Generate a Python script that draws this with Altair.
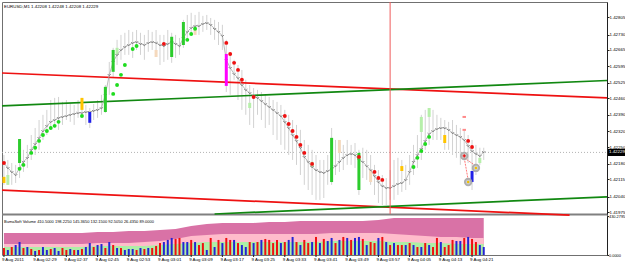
import altair as alt
import pandas as pd

FONT = "Liberation Sans"

# ---------------- data ----------------
title_text = "EURUSD,M1  1.42208 1.42248 1.42208 1.42229"
vol_label = "BumaSoft Volume 410.5000 198.2250 145.3650 132.1500 92.5050 26.4350 89.0000"
current_price = 1.42229
price_ticks = [1.42805, 1.42730, 1.42665, 1.42595, 1.42525, 1.42460, 1.42390,
               1.42320, 1.42250, 1.42180, 1.42115, 1.42040, 1.41975]
vol_ticks = [0.0, 430.2795]
x_tick_bars = [0, 8, 16, 24, 32, 40, 48, 56, 64, 72, 80, 88, 96, 104, 112, 120]
x_tick_labels = ["9 Aug 2011", "9 Aug 02:29", "9 Aug 02:37", "9 Aug 02:45", "9 Aug 02:53",
                 "9 Aug 03:01", "9 Aug 03:09", "9 Aug 03:17", "9 Aug 03:25", "9 Aug 03:33",
                 "9 Aug 03:41", "9 Aug 03:49", "9 Aug 03:57", "9 Aug 04:05", "9 Aug 04:13",
                 "9 Aug 04:21"]

bar_idx = list(range(124))
close = [
    1.42184, 1.42163, 1.42146, 1.42133, 1.42163, 1.42189, 1.42206, 1.42240, 1.42265, 1.42291,
    1.42320, 1.42342, 1.42359, 1.42367, 1.42376, 1.42380, 1.42384, 1.42389, 1.42393, 1.42397,
    1.42397, 1.42401, 1.42401, 1.42406, 1.42410, 1.42418, 1.42474, 1.42559, 1.42614, 1.42644,
    1.42665, 1.42678, 1.42686, 1.42695, 1.42699, 1.42691, 1.42686, 1.42695, 1.42699, 1.42695,
    1.42686, 1.42682, 1.42691, 1.42699, 1.42691, 1.42682, 1.42716, 1.42742, 1.42759, 1.42767,
    1.42767, 1.42776, 1.42780, 1.42772, 1.42755, 1.42742, 1.42725, 1.42623, 1.42589, 1.42563,
    1.42546, 1.42516, 1.42495, 1.42482, 1.42469, 1.42461, 1.42448, 1.42435, 1.42423, 1.42410,
    1.42397, 1.42384, 1.42359, 1.42333, 1.42303, 1.42278, 1.42249, 1.42210, 1.42189, 1.42167,
    1.42154, 1.42146, 1.42142, 1.42150, 1.42159, 1.42171, 1.42189, 1.42206, 1.42218, 1.42223,
    1.42218, 1.42197, 1.42189, 1.42171, 1.42154, 1.42129, 1.42103, 1.42086, 1.42078, 1.42078,
    1.42086, 1.42095, 1.42099, 1.42112, 1.42146, 1.42189, 1.42218, 1.42244, 1.42278, 1.42308,
    1.42320, 1.42329, 1.42333, 1.42333, 1.42325, 1.42312, 1.42303, 1.42295, 1.42282, 1.42257,
    1.42235, 1.42223, 1.42214, 1.42231]
high = [
    1.42218, 1.42197, 1.42184, 1.42176, 1.42286, 1.42240, 1.42261, 1.42303, 1.42333, 1.42367,
    1.42389, 1.42410, 1.42452, 1.42461, 1.42465, 1.42444, 1.42452, 1.42435, 1.42431, 1.42452,
    1.42461, 1.42431, 1.42418, 1.42435, 1.42452, 1.42474, 1.42516, 1.42614, 1.42674, 1.42708,
    1.42729, 1.42738, 1.42750, 1.42742, 1.42750, 1.42738, 1.42729, 1.42750, 1.42742, 1.42750,
    1.42729, 1.42729, 1.42750, 1.42738, 1.42729, 1.42716, 1.42793, 1.42814, 1.42823, 1.42814,
    1.42827, 1.42810, 1.42814, 1.42801, 1.42793, 1.42784, 1.42772, 1.42708, 1.42644, 1.42623,
    1.42601, 1.42580, 1.42538, 1.42516, 1.42503, 1.42495, 1.42486, 1.42474, 1.42465, 1.42452,
    1.42444, 1.42431, 1.42410, 1.42389, 1.42367, 1.42346, 1.42325, 1.42282, 1.42261, 1.42240,
    1.42218, 1.42197, 1.42197, 1.42218, 1.42333, 1.42282, 1.42269, 1.42261, 1.42282, 1.42261,
    1.42269, 1.42240, 1.42249, 1.42240, 1.42218, 1.42176, 1.42154, 1.42133, 1.42120, 1.42154,
    1.42197, 1.42206, 1.42197, 1.42176, 1.42218, 1.42261, 1.42303, 1.42389, 1.42410, 1.42418,
    1.42410, 1.42389, 1.42376, 1.42367, 1.42359, 1.42367, 1.42346, 1.42333, 1.42325, 1.42303,
    1.42282, 1.42261, 1.42249, 1.42249]
low = [
    1.42091, 1.42091, 1.42091, 1.42099, 1.42120, 1.42146, 1.42163, 1.42197, 1.42218, 1.42240,
    1.42282, 1.42303, 1.42325, 1.42333, 1.42325, 1.42346, 1.42367, 1.42359, 1.42346, 1.42376,
    1.42376, 1.42346, 1.42333, 1.42367, 1.42376, 1.42389, 1.42397, 1.42474, 1.42546, 1.42601,
    1.42623, 1.42644, 1.42644, 1.42631, 1.42665, 1.42644, 1.42623, 1.42657, 1.42665, 1.42657,
    1.42601, 1.42614, 1.42623, 1.42610, 1.42631, 1.42644, 1.42674, 1.42708, 1.42729, 1.42738,
    1.42729, 1.42742, 1.42750, 1.42729, 1.42708, 1.42686, 1.42665, 1.42486, 1.42474, 1.42538,
    1.42452, 1.42410, 1.42389, 1.42346, 1.42333, 1.42389, 1.42367, 1.42333, 1.42346, 1.42303,
    1.42282, 1.42261, 1.42240, 1.42218, 1.42197, 1.42176, 1.42133, 1.42091, 1.42069, 1.42048,
    1.42027, 1.42027, 1.42035, 1.42091, 1.42091, 1.42133, 1.42146, 1.42154, 1.42176, 1.42176,
    1.42163, 1.42048, 1.42120, 1.42112, 1.42091, 1.42048, 1.42014, 1.42005, 1.42005, 1.42027,
    1.42027, 1.42048, 1.42061, 1.42069, 1.42091, 1.42133, 1.42163, 1.42197, 1.42240, 1.42261,
    1.42282, 1.42282, 1.42282, 1.42240, 1.42240, 1.42218, 1.42206, 1.42176, 1.42197, 1.42184,
    1.42069, 1.42133, 1.42176, 1.42197]

# strongly coloured candle bodies
body_bar = [0, 4, 20, 22, 26, 28, 43, 46, 57, 84, 91, 102, 113, 120]
body_top = [1.42125, 1.42286, 1.42461, 1.42401, 1.42508, 1.42665, 1.42721, 1.42784, 1.42648,
            1.42291, 1.42227, 1.42171, 1.42303, 1.42150]
body_bot = [1.42099, 1.42184, 1.42410, 1.42355, 1.42401, 1.42572, 1.42635, 1.42686, 1.42512,
            1.42103, 1.42069, 1.42150, 1.42269, 1.42103]
body_kind = ["yellow", "green", "yellow", "blue", "green", "green", "green", "green", "magenta",
             "green", "green", "yellow", "yellow", "blue"]

# faint candle bodies
pastel_bar = [1, 29, 39, 49, 63, 79, 86, 94, 107, 109, 122]
pastel_top = [1.42133, 1.42674, 1.42665, 1.42759, 1.42440, 1.42189, 1.42282, 1.42154, 1.42380,
              1.42418, 1.42206]
pastel_bot = [1.42091, 1.42644, 1.42635, 1.42729, 1.42418, 1.42167, 1.42227, 1.42103, 1.42316,
              1.42380, 1.42184]
pastel_kind = ["lg", "lg", "or", "or", "lg", "lg", "or", "or", "lg", "lg", "lg"]

# dotted trailing stop (SAR-like) dots
sar_bar = [0, 4, 5, 7, 8, 9, 10, 11, 12, 13, 14, 20, 28, 29, 30, 31, 33, 34, 41, 47, 48, 49,
           57, 58, 59, 60, 61, 64, 72, 73, 74, 75, 76, 77, 79, 91, 95, 96, 97,
           105, 106, 107, 108, 109, 119, 120]
sar_price = [1.42184, 1.42159, 1.42176, 1.42227, 1.42249, 1.42278, 1.42303, 1.42320, 1.42333,
             1.42342, 1.42359, 1.42384, 1.42478, 1.42516, 1.42559, 1.42601, 1.42669, 1.42682,
             1.42691, 1.42708, 1.42733, 1.42755,
             1.42695, 1.42648, 1.42610, 1.42580, 1.42538, 1.42465, 1.42384, 1.42350, 1.42320,
             1.42295, 1.42261, 1.42227, 1.42180, 1.42210, 1.42146, 1.42120, 1.42112,
             1.42167, 1.42206, 1.42235, 1.42265, 1.42295, 1.42278, 1.42252]
sar_dir = ["dn"] + ["up"] * 17 + ["dn"] + ["up"] * 3 + ["dn"] * 17 + ["up"] * 5 + ["dn"] * 2

# grey circle markers near the end
circle_bar = [118, 121, 119]
circle_price = [1.42214, 1.42163, 1.42103]
circle_kind = ["sell", "buy", "buy"]
tick_bar = [118, 118]
tick_price = [1.42380, 1.42325]
dash_seg = ["a", "a", "b", "b"]
dash_bar = [118, 119, 118, 121]
dash_price = [1.42206, 1.42112, 1.42206, 1.42171]

# trend lines (endpoints, in bar units)
trend_id = ["r1", "r1", "g1", "g1", "r2", "r2", "g2", "g2"]
trend_col = ["red", "red", "green", "green", "red", "red", "green", "green"]
trend_bar = [-0.5, 154.6, -0.5, 154.6, -0.5, 145.0, 54.0, 154.6]
trend_price = [1.42567, 1.42461, 1.42427, 1.42535, 1.42069, 1.41962, 1.41967, 1.42040]
vline_bar = [99]

# volume pane
volume = [77, 55, 88, 110, 143, 77, 88, 66, 44, 55, 88, 55, 66, 77, 44, 77, 55, 66, 55, 55,
          66, 88, 132, 88, 110, 121, 77, 143, 110, 77, 77, 55, 66, 66, 55, 77, 66, 77, 77, 99,
          132, 143, 166, 188, 177, 188, 143, 143, 166, 143, 110, 132, 55, 188, 88, 166, 132,
          188, 166, 166, 132, 110, 88, 143, 132, 143, 166, 177, 166, 132, 166, 132, 143, 166,
          199, 143, 110, 166, 132, 143, 199, 132, 177, 154, 188, 132, 166, 199, 188, 166, 188,
          199, 177, 110, 143, 132, 188, 199, 143, 110, 132, 110, 110, 110, 132, 110, 88, 88,
          132, 110, 88, 188, 143, 88, 110, 166, 154, 154, 188, 199, 177, 143, 110, 88]
vol_dir = list("rbrbbrbrbrbbrbbrrbrbrbbrbbrbrbrbbbrbrbrrrbbbrrbbrbrrbrbrbrrbrbbrbrbrrrrbrbbrbrrbrbrbbrbrbrbbrbrrbrbrbrrbrbrbrbrrbrrrbbrbrrbb")[:124]
area_bar = [0, 4, 8, 12, 16, 20, 24, 28, 32, 36, 40, 44, 48, 52, 56, 60, 64, 68, 72, 76, 80,
            84, 88, 92, 96, 100, 104, 108, 112, 116, 120, 123]
area_hatch = [243, 243, 243, 243, 243, 243, 254, 254, 265, 265, 276, 287, 320, 342, 353, 353,
              353, 364, 364, 375, 375, 375, 375, 375, 386, 408, 408, 408, 408, 408, 408, 408]
area_pink = [121, 121, 121, 121, 121, 121, 132, 132, 132, 143, 154, 176, 210, 221, 232, 232,
             232, 232, 232, 232, 232, 243, 243, 243, 243, 232, 221, 210, 199, 199, 188, 188]
area_green = [88, 88, 88, 88, 88, 88, 99, 99, 99, 99, 110, 121, 132, 143, 143, 143, 143, 143,
              143, 143, 143, 154, 154, 154, 154, 143, 143, 132, 132, 121, 121, 121]

# ---------------- tables ----------------
ohlc = pd.DataFrame({"bar": bar_idx, "close": close, "high": high, "low": low})
bodies = pd.DataFrame({"bar": body_bar, "top": body_top, "bot": body_bot, "kind": body_kind})
pastels = pd.DataFrame({"bar": pastel_bar, "top": pastel_top, "bot": pastel_bot, "kind": pastel_kind})
sar = pd.DataFrame({"bar": sar_bar, "price": sar_price, "dir": sar_dir})
circles = pd.DataFrame({"bar": circle_bar, "price": circle_price, "kind": circle_kind})
ticks = pd.DataFrame({"bar": tick_bar, "price": tick_price})
dashes = pd.DataFrame({"seg": dash_seg, "bar": dash_bar, "price": dash_price})
trends = pd.DataFrame({"id": trend_id, "col": trend_col, "bar": trend_bar, "price": trend_price})
vline = pd.DataFrame({"bar": vline_bar})
cur = pd.DataFrame({"price": [current_price], "label": [f"{current_price:.5f}"]})
vol = pd.DataFrame({"bar": bar_idx, "vol": volume, "dir": vol_dir})
areas = pd.DataFrame({"bar": area_bar, "hatch": area_hatch, "pink": area_pink, "green": area_green})
texts = pd.DataFrame({"t": [title_text]})
vtexts = pd.DataFrame({"t": [vol_label]})
xlab = pd.DataFrame({"bar": x_tick_bars, "label": x_tick_labels})

# ---------------- scales ----------------
W, H = 605, 253
FS = 4.4
xscale = alt.Scale(domain=[-0.5, 154.6], nice=False, zero=False)
yscale = alt.Scale(domain=[1.41967, 1.42869], range=[212, 0], nice=False, zero=False)
vscale = alt.Scale(domain=[0, 430.2795], range=[253, 214], nice=False, zero=True)


def X(field="bar"):
    return alt.X(f"{field}:Q", scale=xscale, axis=None)


def Y(field):
    return alt.Y(f"{field}:Q", scale=yscale, axis=None)


def V(field):
    return alt.Y(f"{field}:Q", scale=vscale, axis=None)


def sub(df, col, val):
    return df[df[col] == val]


layers = []

# volume pane (drawn first)
layers.append(alt.Chart(areas).mark_area(color="#d972a6", opacity=1).encode(
    x=X(),
    y=alt.Y("hatch:Q", scale=vscale,
            axis=alt.Axis(orient="right", values=vol_ticks, format=".4f", title=None,
                          labelFontSize=3.9, tickSize=1.5, labelPadding=0, grid=False))))
layers.append(alt.Chart(areas).mark_area(color="#ffbccb", opacity=1).encode(x=X(), y=V("pink")))
layers.append(alt.Chart(areas).mark_area(color="#aeeea6", opacity=1).encode(x=X(), y=V("green")))
for d, c in [("r", "#f01010"), ("b", "#2424d4")]:
    layers.append(alt.Chart(sub(vol, "dir", d)).mark_rule(color=c, strokeWidth=2).encode(
        x=X(), y=V("vol"), y2=alt.datum(0)))
layers.append(alt.Chart(vtexts).mark_text(align="left", baseline="middle", fontSize=4.0, font=FONT,
                                          color="black").encode(
    x=alt.value(2), y=alt.value(220), text="t:N"))
layers.append(alt.Chart(cur).mark_rule(color="#808080", strokeWidth=2).encode(
    x=alt.value(0), x2=alt.value(W), y=alt.value(212.5)))

# time axis: ticks and labels placed through the x scale
layers.append(alt.Chart(xlab).mark_rule(color="#202020", strokeWidth=1).encode(
    x=X(), y=alt.value(H), y2=alt.value(H + 2)))
layers.append(alt.Chart(xlab).mark_text(align="left", baseline="top", fontSize=FS, font=FONT,
                                        color="black", dx=-2).encode(
    x=X(), y=alt.value(H + 2.5), text="label:N"))

# main pane
layers.append(alt.Chart(cur).mark_rule(color="#b4b4b4", strokeDash=[1, 2], strokeWidth=1).encode(
    x=alt.value(0), x2=alt.value(W),
    y=alt.Y("price:Q", scale=yscale,
            axis=alt.Axis(orient="right", values=price_ticks, format=".5f", title=None,
                          labelFontSize=FS, tickSize=2, labelPadding=0, grid=False))))
layers.append(alt.Chart(ohlc).mark_rule(color="#d2d2d2", strokeWidth=1).encode(
    x=X(), y=Y("high"), y2="low:Q"))
for k, c in [("lg", "#b6efaa"), ("or", "#f5d9bd")]:
    layers.append(alt.Chart(sub(pastels, "kind", k)).mark_rule(color=c, strokeWidth=3).encode(
        x=X(), y=Y("top"), y2="bot:Q"))
for k, c in [("red", "#ee1111"), ("green", "#118811")]:
    layers.append(alt.Chart(sub(trends, "col", k)).mark_line(color=c, strokeWidth=1.7).encode(
        x=X(), y=Y("price"), detail="id:N"))
layers.append(alt.Chart(ohlc).mark_line(color="#a8a8a8", strokeWidth=0.8).encode(x=X(), y=Y("close")))
layers.append(alt.Chart(ohlc).mark_point(
    shape="M-1,-0.5L0,0.5L1,-0.5", size=10, filled=False, color="#6e6e6e", strokeWidth=0.8,
    opacity=1).encode(x=X(), y=Y("close")))
for k, c in [("green", "#2ccc2c"), ("yellow", "#ffc400"), ("magenta", "#ff00ff"), ("blue", "#2020e8")]:
    layers.append(alt.Chart(sub(bodies, "kind", k)).mark_rule(color=c, strokeWidth=3).encode(
        x=X(), y=Y("top"), y2="bot:Q"))
layers.append(alt.Chart(vline).mark_rule(color="#ef5a5a", strokeWidth=1).encode(
    x=X(), y=alt.value(0), y2=alt.value(212)))
for d, c in [("up", "#1fdc1f"), ("dn", "#ee1111")]:
    layers.append(alt.Chart(sub(sar, "dir", d)).mark_circle(size=15, opacity=1, color=c).encode(
        x=X(), y=Y("price")))
layers.append(alt.Chart(dashes).mark_line(color="#ff5555", strokeDash=[2, 1], strokeWidth=0.8).encode(
    x=X(), y=Y("price"), detail="seg:N"))
layers.append(alt.Chart(circles).mark_circle(size=70, color="#a6a6a6", opacity=0.9).encode(
    x=X(), y=Y("price")))
layers.append(alt.Chart(circles).mark_circle(size=22, color="#cfcfcf", opacity=1).encode(
    x=X(), y=Y("price")))
layers.append(alt.Chart(sub(circles, "kind", "sell")).mark_point(
    shape="cross", size=10, filled=True, color="#ee1111", opacity=1).encode(x=X(), y=Y("price")))
layers.append(alt.Chart(sub(circles, "kind", "buy")).mark_circle(
    size=6, color="#f0c000", opacity=1).encode(x=X(), y=Y("price")))
layers.append(alt.Chart(ticks).mark_point(shape="stroke", size=12, color="#ff8888", opacity=1).encode(
    x=X(), y=Y("price")))
layers.append(alt.Chart(texts).mark_text(align="left", baseline="middle", fontSize=FS, font=FONT,
                                         color="black").encode(
    x=alt.value(2), y=alt.value(5), text="t:N"))
layers.append(alt.Chart(cur).mark_point(shape="M-1,-0.36L1,-0.36L1,0.36L-1,0.36Z", size=400,
                                        filled=True, color="black", opacity=1).encode(
    x=alt.value(616), y=Y("price")))
layers.append(alt.Chart(cur).mark_text(align="left", baseline="middle", fontSize=FS, font=FONT,
                                       color="white").encode(
    x=alt.value(607), y=Y("price"), text="label:N"))

chart = alt.layer(*layers).resolve_scale(y="independent").properties(
    width=W, height=H,
    autosize=alt.AutoSizeParams(type="none"),
    padding={"left": 2, "top": 2, "right": 18, "bottom": 9},
    background="white",
).configure_view(stroke="#707070", strokeWidth=1).configure_axis(
    labelFont=FONT, labelColor="black", domainColor="#202020", tickColor="#202020",
    domainWidth=1, tickWidth=1)

chart.save("out.html", embed_options={"renderer": "svg", "actions": False})
